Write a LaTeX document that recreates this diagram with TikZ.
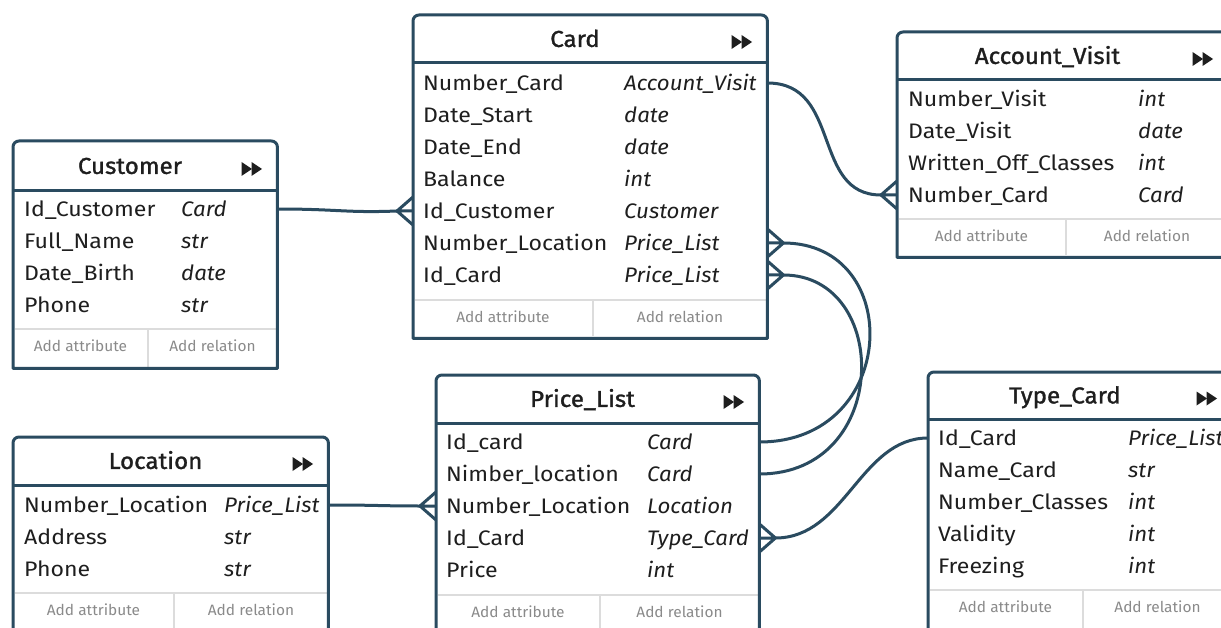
\documentclass[tikz,border=0pt]{standalone}
\usepackage{fontspec}
\setmainfont{Fira Sans}[FakeStretch=1.1, ItalicFeatures={FakeStretch=1.06}]
\newfontfamily\ertitlefont{Fira Sans}[FakeBold=1.3,FakeStretch=1.05]
\newfontfamily\erfootfont{Fira Sans}[FakeStretch=1.03]
\usetikzlibrary{calc}
\definecolor{erline}{HTML}{2A4B60}
\definecolor{ersep}{HTML}{DCDCDC}
\definecolor{erfoot}{HTML}{8A8A8A}
\definecolor{ertext}{HTML}{1E1E1E}

\tikzset{
  boxline/.style={draw=erline, line width=3pt, line join=round},
  sepline/.style={draw=ersep, line width=1.3pt},
  conn/.style={draw=erline, line width=3pt, line join=round},
  attr/.style={anchor=base west, inner sep=0pt, text=ertext, font=\fontsize{21}{21}\selectfont},
  atype/.style={anchor=base west, inner sep=0pt, text=ertext, font=\fontsize{21}{21}\selectfont\itshape},
  ttl/.style={anchor=base, inner sep=0pt, text=ertext, font=\ertitlefont\fontsize{23}{23}\selectfont},
  foot/.style={anchor=base, inner sep=0pt, text=erfoot, font=\erfootfont\fontsize{15}{15}\selectfont},
  crowW/.pic={\draw[conn] (0,-14) -- (-16,0) -- (0,14) (-16,0) -- (0,0);},
  crowE/.pic={\draw[conn] (0,-14) -- (16,0) -- (0,14) (16,0) -- (0,0);}
}

% #1 name #2 L #3 T #4 R #5 B #6 header y #7 footer y #8 separator x #9 title
\newcommand\erbox[9]{%
  \pgfmathsetmacro\erW{#4-#2}%
  \pgfmathsetmacro\erHt{#5-#3}%
  \node[inner sep=0pt, minimum width=\erW pt, minimum height=\erHt pt, anchor=north west] (#1) at (#2,#3) {};
  \fill[white] (#1.south east) -- (#1.south west) -- (#1.north west) -- (#1.north east) -- cycle;
  \draw[sepline] (#2+1.5,#7) -- (#4-1.5,#7);
  \draw[sepline] (#8,#7) -- (#8,#5-1.5);
  \draw[boxline] (#2,#6) -- (#4,#6);
  \draw[boxline] (#1.south east) -- (#1.south west) -- ([yshift=-6pt]#1.north west)
     arc[start angle=180,end angle=90,radius=6pt] -- ([xshift=-6pt]#1.north east)
     arc[start angle=90,end angle=0,radius=6pt] -- cycle;
  \pgfmathsetmacro\erTY{(#3+#6)/2}%
  \node[ttl] (#1-title) at ({(#2+#4)/2-15},{\erTY+7.9}) {#9};
  \pgfmathsetmacro\erIX{#4-25}%
  \fill[ertext] (\erIX-10.5,\erTY-4) -- (\erIX,\erTY+3) -- (\erIX-10.5,\erTY+10) -- cycle;
  \fill[ertext] (\erIX-0.5,\erTY-4) -- (\erIX+10,\erTY+3) -- (\erIX-0.5,\erTY+10) -- cycle;
  \node[foot] (#1-fa) at ({(#2+#8)/2},#7+22.2) {Add attribute};
  \node[foot] (#1-fr) at ({(#8+#4)/2},#7+22.2) {Add relation};
}

% #1 name #2 name x #3 type x #4 first row centre y #5 list
\newcommand\errows[5]{%
  \foreach \rn/\rt [count=\ri] in {#5} {
    \pgfmathsetmacro\erRY{#4+32*(\ri-1)}%
    \coordinate (#1-r\ri) at (#2,\erRY);
    \node[attr] (#1-n\ri) at (#2,\erRY+7.2) {\rn};
    \node[atype] (#1-y\ri) at (#3,\erRY+7.2) {\rt};
  }
}

\begin{document}
\begin{tikzpicture}[x=1pt,y=-1pt]
\useasboundingbox (0,0) rectangle (1221,628);
\clip (0,0) rectangle (1221,628);
\fill[white] (0,0) rectangle (1221,628);

% Card
\erbox{card}{413}{15}{767}{338}{63}{300}{593}{Card}
\errows{card}{423}{624}{83}{Number\_Card/Account\_Visit, Date\_Start/date, Date\_End/date, Balance/int, Id\_Customer/Customer, Number\_Location/Price\_List, Id\_Card/Price\_List}

% Customer
\erbox{customer}{13}{141}{277}{368}{191}{329}{148}{Customer}
\errows{customer}{24}{181}{209}{Id\_Customer/Card, Full\_Name/str, Date\_Birth/date, Phone/str}

% Location
\erbox{location}{13}{437}{328}{632}{485}{593}{174}{Location}
\errows{location}{24}{224}{505}{Number\_Location/Price\_List, Address/str, Phone/str}

% Price_List
\erbox{pricelist}{436}{375}{759}{633}{423}{595}{600}{Price\_List}
\errows{pricelist}{446}{647}{442}{Id\_card/Card, Nimber\_location/Card, Number\_Location/Location, Id\_Card/Type\_Card, Price/int}

% Account_Visit
\erbox{accvisit}{897}{32}{1228}{257}{80}{219}{1066}{Account\_Visit}
\errows{accvisit}{908}{1138}{99}{Number\_Visit/int, Date\_Visit/date, Written\_Off\_Classes/int, Number\_Card/Card}

% Type_Card
\erbox{typecard}{928}{372}{1232}{633}{419}{590}{1083}{Type\_Card}
\errows{typecard}{938}{1128}{438}{Id\_Card/Price\_List, Name\_Card/str, Number\_Classes/int, Validity/int, Freezing/int}

% connectors
\draw[conn] (customer.east |- customer-r1) .. controls +(60,0) and +(-50,2) .. ($(card.west |- card-r5)+(-16,0)$);
\pic at (card.west |- card-r5) {crowW};

\draw[conn] (card.east |- card-r1) .. controls +(75,0) and +(-70,0) .. ($(accvisit.west |- accvisit-r4)+(-16,0)$);
\pic at (accvisit.west |- accvisit-r4) {crowW};

\draw[conn] ($(card.east |- card-r6)+(16,0)$) .. controls +(122,0) and +(140,0) .. (pricelist.east |- pricelist-r1);
\pic at (card.east |- card-r6) {crowE};

\draw[conn] ($(card.east |- card-r7)+(16,0)$) .. controls +(108,0) and +(132,0) .. (pricelist.east |- pricelist-r2);
\pic at (card.east |- card-r7) {crowE};

\draw[conn] (typecard.west |- typecard-r1) .. controls +(-68,0) and +(70,0) .. ($(pricelist.east |- pricelist-r4)+(16,0)$);
\pic at (pricelist.east |- pricelist-r4) {crowE};

\draw[conn] (location.east |- location-r1) .. controls +(50,0) and +(-40,0) .. ($(pricelist.west |- pricelist-r3)+(-16,0)$);
\pic at (pricelist.west |- pricelist-r3) {crowW};
\end{tikzpicture}
\end{document}
